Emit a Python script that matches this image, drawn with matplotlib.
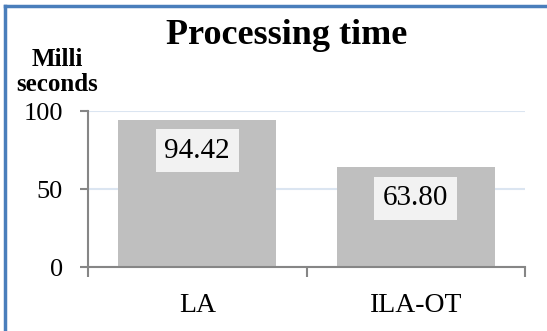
import numpy as np
import matplotlib.pyplot as plt
from matplotlib.lines import Line2D

categories = ['LA', 'ILA-OT']
times_ms = [94.42, 63.80]
value_labels = ['94.42', '63.80']

plt.rcParams['font.family'] = ['Liberation Serif', 'DejaVu Serif']

fig = plt.figure(figsize=(5.47, 3.31), dpi=100)
ax = fig.add_axes([88/547, 1 - 267/331, (525 - 88)/547, (267 - 111)/331])

x = np.arange(len(categories))
bars = ax.bar(x, times_ms, width=0.725, color='#bfbfbf', zorder=2)

for xi, v, lab in zip(x, times_ms, value_labels):
    ax.annotate(lab, (xi, v), xytext=(0, -31), textcoords='offset pixels',
                ha='center', va='center', fontsize=21, zorder=3,
                bbox=dict(boxstyle='square,pad=0.3', fc='#f2f2f2', ec='none'))

ax.set_xlim(-0.5, 1.5)
ax.set_ylim(0, 100)
ax.set_yticks([0, 50, 100])
ax.set_yticklabels(['0', '50', '100'], fontsize=19)
ax.yaxis.grid(True, color='#dbe5f1', linewidth=1.5, zorder=0)
ax.set_axisbelow(True)

ax.set_xticks([-0.5, 0.5, 1.5])
ax.set_xticklabels([])
ax.set_xticks(x, minor=True)
ax.set_xticklabels(categories, minor=True, fontsize=20)
ax.tick_params(axis='x', which='minor', length=0, pad=19)
ax.tick_params(axis='x', which='major', length=7, width=1.5, color='#868686', direction='out')
ax.tick_params(axis='y', length=6, width=1.5, color='#868686', pad=12)

for s in ['top', 'right']:
    ax.spines[s].set_visible(False)
for s in ['left', 'bottom']:
    ax.spines[s].set_color('#868686')
    ax.spines[s].set_linewidth(1.5)

fig.text(287/547, 1 - 35/331, 'Processing time', ha='center', va='center',
         fontsize=26, fontweight='bold')
fig.text(57/547, 1 - 72/331, 'Milli\nseconds', ha='center', va='center',
         fontsize=18, fontweight='bold', linespacing=1.15)

# blue frame on top and left
fig.add_artist(Line2D([5/547, 1], [1 - 6/331, 1 - 6/331], color='#4a7ebb', lw=2.5))
fig.add_artist(Line2D([5/547, 5/547], [0, 1 - 6/331], color='#4a7ebb', lw=2.5))

fig.savefig('out.png', dpi=100)
